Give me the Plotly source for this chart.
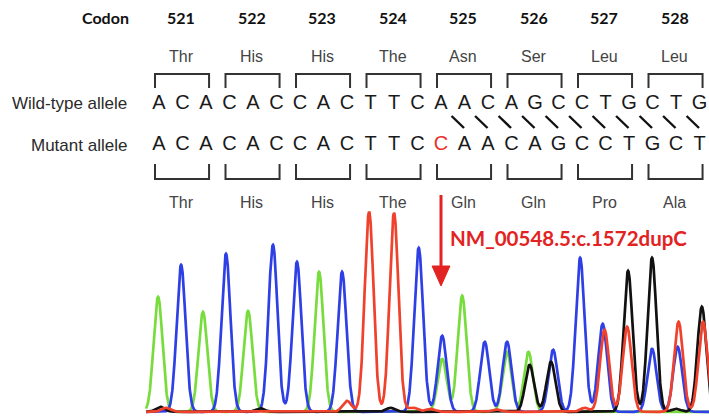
import numpy as np
import plotly.graph_objects as go

# ---------------- data ----------------
codons = ["521", "522", "523", "524", "525", "526", "527", "528"]
wt_aa = ["Thr", "His", "His", "The", "Asn", "Ser", "Leu", "Leu"]
mut_aa = ["Thr", "His", "His", "The", "Gln", "Gln", "Pro", "Ala"]
wt_seq = list("ACACACCACTTCAACAGCCTGCTG")
mut_seq = list("ACACACCACTTCCAACAGCCTGCT")
dup_index = 12          # inserted C in mutant allele
shift_from = [12, 13, 14, 15, 16, 17, 18, 19, 20, 21, 22]   # shifted bases (slashes)
mutation_label = "NM_00548.5:c.1572dupC"

# chromatogram peaks: (base position, height) per channel
peaks_A = [(-0.04, 575), (1.87, 500), (3.79, 505), (6.81, 700), (12.05, 265),
           (12.9, 580), (14.81, 300), (15.72, 300)]
peaks_C = [(0.94, 735), (2.85, 790), (4.85, 835), (5.87, 750), (7.79, 700),
           (11.05, 820), (12.05, 380), (13.86, 350), (14.81, 350), (16.77, 310),
           (17.92, 770), (18.88, 440), (20.98, 315), (22.07, 325)]
peaks_G = [(0.05, 25), (4.3, 18), (9.85, 20), (15.77, 235), (16.68, 250),
           (19.96, 705), (20.98, 770), (22.0, 15), (23.1, 525)]
peaks_T = [(0.3, 20), (8.0, 55), (8.94, 1000), (10.0, 995), (10.8, 22),
           (11.55, 15), (14.36, 12), (18.12, 20), (18.96, 410), (19.92, 425),
           (22.11, 450), (23.15, 450)]

# ---------------- figure ----------------
W, H = 709, 418
X0, DX = 159.0, 23.5            # pixel of base 0, pixel per base
BASE = 413                      # baseline pixel row
K = 5.0                         # signal units per pixel


def P(py):
    """pixel row -> paper fraction"""
    return 1 - py / H


def Yd(py):
    """pixel row -> data y"""
    return (BASE - py) * K


xs = np.linspace(-0.55, 23.5, 3000)
SIG = 0.19


def signal(peaks):
    y = np.full_like(xs, 6.0)
    for mu, h in peaks:
        y += h * np.exp(-0.5 * ((xs - mu) / SIG) ** 2)
    return y


fig = go.Figure()
channels = [("A", peaks_A, "#78dc3c"), ("C", peaks_C, "#2f3fe6"),
            ("G", peaks_G, "#111111"), ("T", peaks_T, "#f0412d")]
for name, pk, col in channels:
    fig.add_trace(go.Scatter(x=xs, y=signal(pk), mode="lines", name=name,
                             line=dict(color=col, width=2.7), hoverinfo="skip"))

# sequences as text marks
idx = list(range(len(wt_seq)))
fig.add_trace(go.Scatter(x=idx, y=[Yd(104)] * len(wt_seq), mode="text", text=wt_seq,
                         textposition="middle center", cliponaxis=False, hoverinfo="skip",
                         textfont=dict(family="Liberation Sans", size=20, color="#1a1a1a")))
fig.add_trace(go.Scatter(x=idx, y=[Yd(145)] * len(mut_seq), mode="text", text=mut_seq,
                         textposition="middle center", cliponaxis=False, hoverinfo="skip",
                         textfont=dict(family="Liberation Sans", size=20,
                                       color=["#e8302a" if i == dup_index else "#1a1a1a" for i in idx])))

ann = []
shapes = []
TXT = "#2a2a2a"
# header
ann.append(dict(x=-1.19, y=P(17), text="<b>Codon</b>", xanchor="right",
                font=dict(family="Lato", size=16, color="#111")))
for k, c in enumerate(codons):
    ann.append(dict(x=3 * k + 1 - 0.05, y=P(17), text="<b>%s</b>" % c,
                    font=dict(family="Lato", size=16, color="#111")))
    ann.append(dict(x=3 * k + 1 - 0.05, y=P(57), text=wt_aa[k],
                    font=dict(family="Liberation Sans", size=16, color="#444")))
    ann.append(dict(x=3 * k + 1 - 0.05, y=P(202), text=mut_aa[k],
                    font=dict(family="Liberation Sans", size=16, color="#444")))
    a, b = 3 * k - 0.17, 3 * k + 2 + 0.13
    shapes.append(dict(type="path", xref="x", yref="paper",
                       path="M %f,%f L %f,%f L %f,%f L %f,%f" % (a, P(88), a, P(74), b, P(74), b, P(88)),
                       line=dict(color="#333", width=2)))
    shapes.append(dict(type="path", xref="x", yref="paper",
                       path="M %f,%f L %f,%f L %f,%f L %f,%f" % (a, P(164), a, P(179), b, P(179), b, P(164)),
                       line=dict(color="#333", width=2)))

ann.append(dict(x=-1.27, y=P(104), text="Wild-type allele", xanchor="right",
                font=dict(family="Liberation Sans", size=17, color=TXT)))
ann.append(dict(x=-1.27, y=P(145), text="Mutant allele", xanchor="right",
                font=dict(family="Liberation Sans", size=17, color=TXT)))
for i in shift_from:
    shapes.append(dict(type="line", xref="x", yref="paper", x0=i + 0.45, x1=i + 0.98,
                       y0=P(116), y1=P(128), line=dict(color="#111", width=2.4)))

# arrow
shapes.append(dict(type="line", xref="x", yref="paper", x0=dup_index, x1=dup_index,
                   y0=P(195), y1=P(270), line=dict(color="#e32222", width=3)))
shapes.append(dict(type="path", xref="x", yref="paper",
                   path="M %f,%f L %f,%f L %f,%f Z" % (dup_index - 0.38, P(266), dup_index + 0.38, P(266), dup_index, P(286)),
                   fillcolor="#e32222", line=dict(color="#e32222", width=1)))
ann.append(dict(x=dup_index + 0.3, y=P(238), text="<b>%s</b>" % mutation_label,
                xanchor="left", font=dict(family="Lato", size=20.5, color="#e32222")))

for a_ in ann:
    a_.setdefault("xref", "x")
    a_["yref"] = "paper"
    a_["showarrow"] = False
    a_.setdefault("yanchor", "middle")

fig.update_layout(
    width=W, height=H, margin=dict(l=0, r=0, t=0, b=0),
    paper_bgcolor="white", plot_bgcolor="white", showlegend=False,
    xaxis=dict(range=[-X0 / DX, (W - X0) / DX], visible=False, fixedrange=True),
    yaxis=dict(range=[-(H - BASE) * K, BASE * K], visible=False, fixedrange=True),
    annotations=ann, shapes=shapes,
)
fig.write_html(
    "out.html",
    config={"displayModeBar": False, "staticPlot": True},
    post_script="document.documentElement.style.margin='0';document.body.style.margin='0';"
                "document.documentElement.style.overflow='hidden';document.body.style.overflow='hidden';",
)
